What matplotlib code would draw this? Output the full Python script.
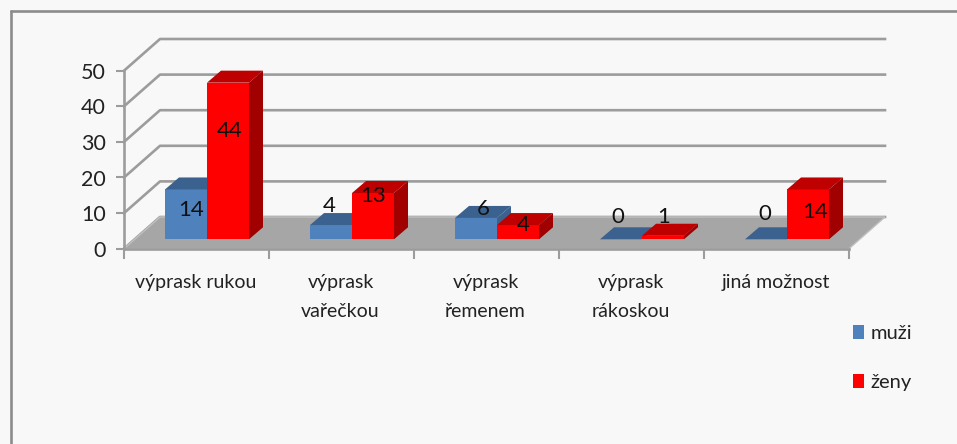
import matplotlib
matplotlib.use("Agg")
import matplotlib.pyplot as plt
from matplotlib.patches import Polygon, Patch
from matplotlib.lines import Line2D

plt.rcParams['font.family'] = ['Lato', 'DejaVu Sans']

categories = ["výprask rukou", "výprask\nvařečkou", "výprask\nřemenem", "výprask\nrákoskou", "jiná možnost"]
muzi = [14, 4, 6, 0, 0]
zeny = [44, 13, 4, 1, 14]
yticks = [0, 10, 20, 30, 40, 50]

W, H = 957, 444
L, R, B, T = 124, 849, 248.7, 70.7
fig = plt.figure(figsize=(W / 100, H / 100), dpi=100, facecolor='#f8f8f8')
ax = fig.add_axes([L / W, 1 - B / H, (R - L) / W, (B - T) / H])
ax.set_xlim(0, len(categories))
ax.set_ylim(0, 50)
ax.patch.set_alpha(0)
for s in ax.spines.values():
    s.set_visible(False)

px = len(categories) / (R - L)      # data x per pixel
py = 50 / (B - T)                   # data y per pixel
DX, DY = 36 * px, 31.7 * py         # depth of the plot box
BX, BY = 10.5 * px, 9.4 * py        # shift of the bar base into the box
SX, SY = 14 * px, 12 * py           # depth of one bar
BW = 42 * px
GRID = '#9c9c9c'

# outer frame
for xs, ys in [((10, 957), (11.3, 11.3)), ((11.3, 11.3), (10, 444))]:
    fig.add_artist(Line2D([x / W for x in xs], [1 - y / H for y in ys], color='#8c8c8c', lw=1.9,
                          solid_capstyle='butt'))

# walls and grid
n = len(categories)
ax.add_patch(Polygon([(0, 0), (n, 0), (n + DX, DY), (DX, DY)], fc='#a6a6a6', ec='#c0c0c0', lw=1, clip_on=False, zorder=1))
for v in yticks:
    ax.plot([0, DX, n + DX], [v, v + DY, v + DY], color=GRID, lw=1.9, clip_on=False, zorder=0.5)
ax.plot([0, 0], [0, 50], color=GRID, lw=1.9, clip_on=False, zorder=2)
ax.plot([0, n], [0, 0], color=GRID, lw=1.9, clip_on=False, zorder=2)

ax.set_xticks(range(n + 1))
ax.set_xticklabels([])
ax.set_yticks(yticks)
ax.tick_params(axis='both', color=GRID, width=1.5, length=6, labelsize=15.5, labelcolor='#222222', pad=7)
ax.tick_params(axis='x', length=7)

def bar3d(x, v, front, top, side, z):
    b = BY
    ax.bar(x, v, BW, bottom=b, align='edge', color=front, clip_on=False, zorder=z)
    ax.add_patch(Polygon([(x, b + v), (x + BW, b + v), (x + BW + SX, b + v + SY), (x + SX, b + v + SY)],
                         fc=top, ec='none', clip_on=False, zorder=z))
    ax.add_patch(Polygon([(x + BW, b), (x + BW + SX, b + SY), (x + BW + SX, b + v + SY), (x + BW, b + v)],
                         fc=side, ec='none', clip_on=False, zorder=z))

label_off_m = [(5, -20.5), (-2, 19), (7, 9), (-3, 22), (-1, 25)]
label_off_z = [(2, -48), (0, -3), (5, 0), (1, 19), (7, -22.5)]

for i in range(n):
    x0 = i + 41 * px
    bar3d(x0, muzi[i], '#4f81bd', '#3b618e', '#3b618e', 3 + i * 0.1)
    bar3d(x0 + BW, zeny[i], '#ff0000', '#bf0000', '#a00000', 3.05 + i * 0.1)
for i in range(n):
    x0 = i + 41 * px
    for xc, v, off in [(x0 + BW / 2, muzi[i], label_off_m[i]), (x0 + 1.5 * BW, zeny[i], label_off_z[i])]:
        ax.annotate(str(v), (xc, v + BY), xytext=(off[0] * 0.72, off[1] * 0.72), textcoords='offset points',
                    ha='center', va='center', fontsize=16, color='#111111', annotation_clip=False, zorder=6)
    ax.text(i + 0.5 - 1 * px, -25.5 * py, categories[i], ha='center', va='top', fontsize=14,
            color='#222222', linespacing=1.85, zorder=6, clip_on=False)

leg = fig.legend(handles=[Patch(fc='#4f81bd', label='muži'), Patch(fc='#ff0000', label='ženy')],
                 loc='upper left', bbox_to_anchor=(853 / W, 1 - 325 / H), frameon=False,
                 fontsize=14.5, handlelength=0.57, handleheight=0.7, handletextpad=0.3, labelspacing=1.6,
                 labelcolor='#222222', borderpad=0, borderaxespad=0)

fig.savefig('out.png', dpi=100, facecolor=fig.get_facecolor())
